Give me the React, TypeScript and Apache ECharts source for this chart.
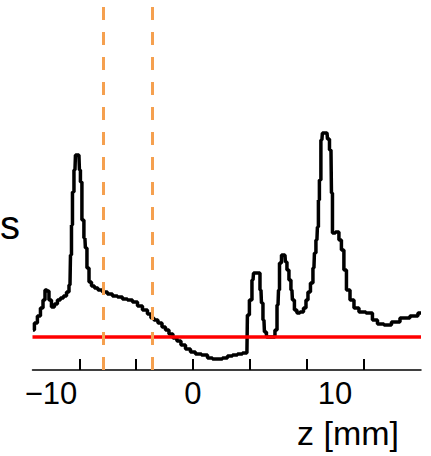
import React, { useEffect, useRef } from "react";
import * as echarts from "echarts";

// z positions [mm] of the profile steps
const zValues: number[] = [
  -11.27, -11.06, -10.85, -10.63, -10.49, -10.35, -10.21, -10.07, -9.86, -9.65,
  -9.44, -9.23, -9.01, -8.8, -8.66, -8.59, -8.52, -8.45, -8.31, -8.24,
  -8.03, -7.96, -7.89, -7.75, -7.61, -7.54, -7.39, -7.25, -7.04, -6.83,
  -6.55, -6.2, -5.85, -5.49, -5.14, -4.79, -4.44, -4.08, -3.73, -3.38,
  -3.03, -2.89, -2.61, -2.32, -2.04, -1.83, -1.55, -1.27, -0.99, -0.7,
  -0.35, 0.0, 0.35, 0.85, 1.2, 1.55, 1.9, 2.25, 2.61, 2.96,
  3.31, 3.66, 3.8, 3.87, 4.08, 4.23, 4.3, 4.65, 4.79, 4.86,
  5.0, 5.07, 5.28, 5.7, 5.85, 5.99, 6.06, 6.13, 6.34, 6.48,
  6.55, 6.69, 6.83, 6.97, 7.04, 7.25, 7.39, 7.68, 7.89, 8.03,
  8.17, 8.38, 8.52, 8.59, 8.73, 8.8, 8.87, 8.94, 9.08, 9.15,
  9.44, 9.51, 9.72, 9.79, 9.86, 10.21, 10.35, 10.56, 10.7, 10.92,
  11.2, 11.48, 11.9, 12.46, 12.82, 13.17, 13.73, 14.23, 14.93, 15.63,
  16.06,
];

// profile values (arbitrary units, 0 = red reference level)
const profile: number[] = [
  0.7, 1.4, 2.1, 2.9, 3.7, 4.7, 4.6, 3.7, 3.0, 3.3,
  3.7, 3.9, 4.1, 4.5, 5.2, 8.2, 11.2, 14.5, 16.7, 18.2,
  18.2, 16.7, 15.5, 11.7, 9.9, 8.9, 6.9, 5.5, 5.1, 4.9,
  4.7, 4.5, 4.3, 4.1, 4.0, 3.8, 3.7, 3.5, 3.1, 2.7,
  2.3, 1.9, 1.7, 1.4, 1.0, 0.7, 0.3, -0.1, -0.4, -0.8,
  -1.2, -1.5, -1.7, -1.8, -2.1, -2.2, -2.2, -2.1, -1.9, -1.8,
  -1.7, -1.6, -1.6, 2.2, 3.7, 5.7, 6.4, 6.4, 4.7, 3.4,
  1.7, 0.5, 0.0, 0.0, 0.7, 3.2, 4.7, 7.4, 8.2, 8.2,
  7.5, 6.7, 5.7, 4.7, 3.7, 2.7, 2.4, 2.5, 2.9, 3.7,
  4.5, 5.4, 6.9, 8.4, 9.7, 11.0, 13.7, 15.7, 19.7, 20.4,
  20.4, 19.8, 18.7, 14.4, 10.4, 10.5, 9.7, 8.7, 6.7, 4.7,
  3.7, 2.9, 2.5, 2.4, 1.7, 1.3, 1.2, 1.5, 1.9, 2.1,
  2.4,
];

const referenceLevel = 0;
const markerPositions: number[] = [-6.3, -2.9];
const tickValues: number[] = [-8, -4, 0, 4, 8, 12];
const labelValues: number[] = [-10, 0, 10];
const xRange: number[] = [-11.3, 16.06];
const yRange: number[] = [-3.3, 33.7];

export default function App() {
  const ref = useRef<HTMLDivElement>(null);

  useEffect(() => {
    if (!ref.current) return;
    const chart = echarts.init(ref.current, undefined, { renderer: "svg" });
    const data = zValues.map((z, i) => [z, profile[i]]);
    chart.setOption({
      animation: false,
      backgroundColor: "#ffffff",
      grid: { left: 32.5, right: 10, top: 0, bottom: 86, containLabel: false },
      xAxis: {
        type: "value",
        min: xRange[0],
        max: xRange[1],
        axisLine: { show: true, onZero: false, lineStyle: { color: "#000", width: 1.5 } },
        axisTick: {
          show: true,
          inside: true,
          length: 11,
          customValues: tickValues,
          lineStyle: { color: "#000", width: 2 },
        },
        axisLabel: {
          show: true,
          customValues: labelValues,
          margin: 8,
          color: "#000",
          fontSize: 31,
          fontFamily: "Liberation Sans, Arial, sans-serif",
          formatter: (v: number) => (v < 0 ? "\u2212" + Math.abs(v) : String(v)),
        },
        splitLine: { show: false },
      },
      yAxis: {
        type: "value",
        min: yRange[0],
        max: yRange[1],
        show: false,
        splitLine: { show: false },
      },
      series: [
        {
          type: "line",
          data,
          step: "middle",
          symbol: "none",
          lineStyle: { color: "#000", width: 3.5 },
          z: 3,
          markLine: {
            silent: true,
            symbol: "none",
            label: { show: false },
            data: [
              {
                yAxis: referenceLevel,
                lineStyle: { color: "#ff0000", width: 3.5, type: "solid" },
              },
              ...markerPositions.map((p) => ({
                xAxis: p,
                lineStyle: { color: "#f5a04f", width: 3, type: [13, 12] },
              })),
            ],
          },
        },
      ],
      graphic: [
        {
          type: "text",
          left: 0,
          top: 205,
          style: {
            text: "s",
            fontSize: 40,
            fill: "#000",
            fontFamily: "Liberation Sans, Arial, sans-serif",
          },
        },
        {
          type: "text",
          left: 297,
          top: 416,
          style: {
            text: "z [mm]",
            fontSize: 34,
            fill: "#000",
            fontFamily: "Liberation Sans, Arial, sans-serif",
          },
        },
      ],
    });
    return () => chart.dispose();
  }, []);

  return (
    <div
      ref={ref}
      style={{ position: "absolute", left: 0, top: 0, width: 431, height: 456 }}
    />
  );
}
